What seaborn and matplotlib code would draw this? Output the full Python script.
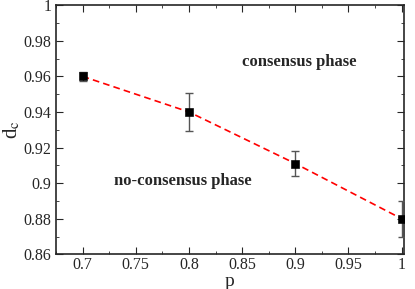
import matplotlib
matplotlib.use("agg")
import matplotlib.pyplot as plt
import seaborn as sns
import pandas as pd
from matplotlib.ticker import MultipleLocator

# data
p_vals = [0.7, 0.8, 0.9, 1.0]
dc_vals = [0.960, 0.940, 0.911, 0.880]
dc_err = [0.0025, 0.0105, 0.007, 0.010]
x_ticks = [0.7, 0.75, 0.8, 0.85, 0.9, 0.95, 1.0]
x_labels = ["0.7", "0.75", "0.8", "0.85", "0.9", "0.95", "1"]
y_ticks = [0.86, 0.88, 0.9, 0.92, 0.94, 0.96, 0.98, 1.0]
y_labels = ["0.86", "0.88", "0.9", "0.92", "0.94", "0.96", "0.98", "1"]

df = pd.DataFrame({"p": p_vals, "dc": dc_vals, "err": dc_err})

sns.set_style("ticks")
plt.rcParams['font.family'] = ['Liberation Serif', 'DejaVu Serif']
plt.rcParams['mathtext.fontset'] = 'stix'

fig, ax = plt.subplots(figsize=(4.15, 2.89), dpi=100)
fig.subplots_adjust(left=0.135, right=0.973, top=0.982, bottom=0.12)

sns.lineplot(data=df, x="p", y="dc", ax=ax, color="red", linestyle=(0, (4, 2.5)),
             linewidth=1.2, zorder=2)
ax.errorbar(df["p"], df["dc"], yerr=df["err"], fmt="none", ecolor="#555555",
            elinewidth=1, capsize=3, capthick=1, zorder=3)
sns.scatterplot(data=df, x="p", y="dc", ax=ax, marker="s", color="black", s=30,
                edgecolor="black", zorder=4)

ax.set_xlim(0.675, 1.002)
ax.set_ylim(0.86, 1.0)
ax.xaxis.set_minor_locator(MultipleLocator(0.025))
ax.yaxis.set_minor_locator(MultipleLocator(0.01))
ax.set_xticks(x_ticks)
ax.set_xticklabels(x_labels)
ax.set_yticks(y_ticks)
ax.set_yticklabels(y_labels)
ax.tick_params(which="both", direction="in", top=True, right=True, labelsize=11.5)
ax.tick_params(which="major", length=5)
ax.tick_params(which="minor", length=2.5)
ax.tick_params(axis="x", pad=2)
for s in ax.spines.values():
    s.set_linewidth(1.2)

ax.set_xlabel("p", fontsize=14, labelpad=0)
ax.set_ylabel(r"d$_\mathrm{c}$", fontsize=15, labelpad=1)

ax.text(0.904, 0.968, "consensus phase", fontsize=12, fontweight="bold",
        ha="center", va="center")
ax.text(0.794, 0.901, "no-consensus phase", fontsize=12, fontweight="bold",
        ha="center", va="center")

fig.savefig("out.png", dpi=100)
